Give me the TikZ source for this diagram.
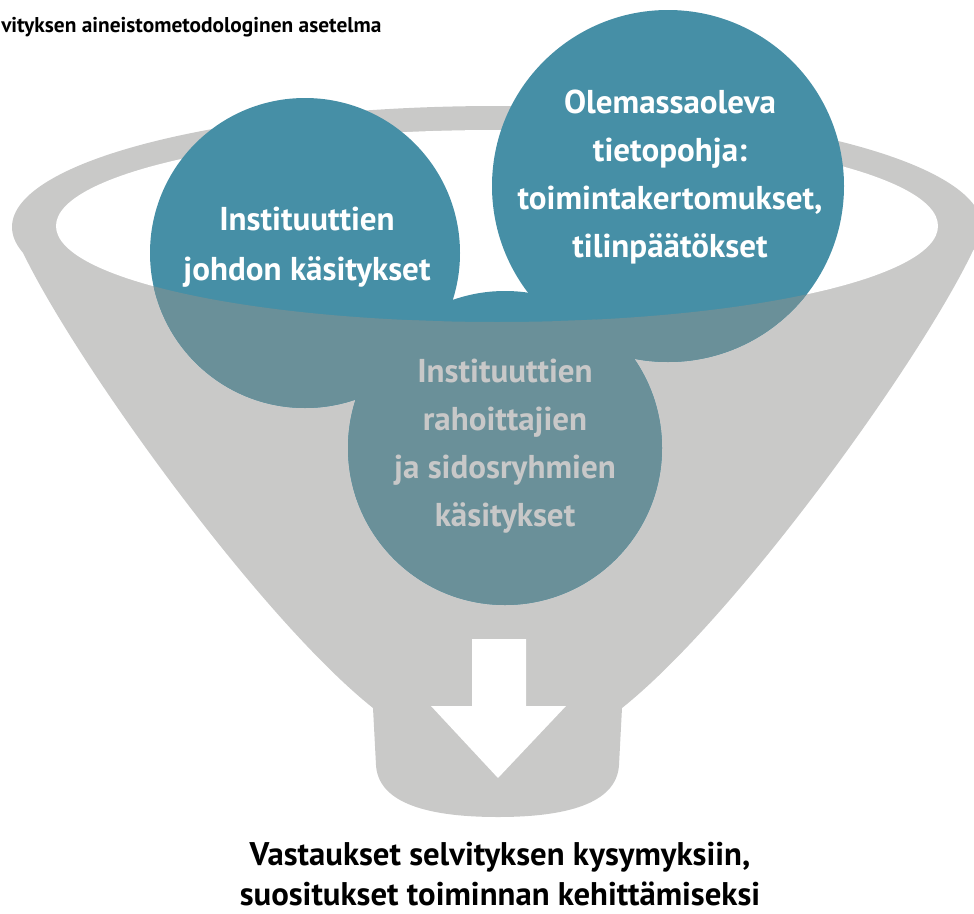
\documentclass[tikz,border=0pt]{standalone}
\usepackage{fontspec}
\setmainfont{PT Sans}
\definecolor{fgray}{RGB}{201,201,200}
\definecolor{teal1}{RGB}{70,143,166}
\definecolor{teal2}{RGB}{106,144,153}
\definecolor{ltext}{RGB}{200,200,200}
\begin{document}
\begin{tikzpicture}[x=0.025cm,y=-0.025cm,
  ctext/.style={anchor=base,inner sep=0pt,font=\bfseries\fontsize{23.5}{34}\selectfont,text=white},
  btext/.style={anchor=base,inner sep=0pt,font=\bfseries\fontsize{23.5}{34}\selectfont,text=ltext},
  otext/.style={anchor=base,inner sep=0pt,font=\bfseries\fontsize{23.3}{34}\selectfont,text=black}]
\useasboundingbox (0,0) rectangle (974,914);
% funnel body
\fill[fgray] (497,227) ellipse [x radius=485, y radius=121];
\fill[fgray] (12,227) .. controls (45,320) and (250,610) .. (373,708)
  -- (376,765) .. controls (378,800) and (420,817) .. (498,817)
  .. controls (575,817) and (617,800) .. (619,765)
  -- (622,708) .. controls (745,610) and (950,320) .. (983,227) -- cycle;
% mouth
\fill[white] (497,226) ellipse [x radius=441, y radius=96];
% circles
\fill[teal1] (305,253) circle [radius=155];
\fill[teal1] (668,186) circle [radius=176];
\fill[teal1] (505,448) circle [radius=157];
\begin{scope}
\clip (56,226) arc [start angle=180, end angle=0, x radius=441, y radius=96] -- (974,914) -- (0,914) -- cycle;
\fill[teal2] (305,253) circle [radius=155];
\fill[teal2] (668,186) circle [radius=176];
\fill[teal2] (505,448) circle [radius=157];
\end{scope}
% arrow
\fill[white] (472,639) -- (526,639) -- (526,706) -- (566,706) -- (498,778) -- (431,706) -- (472,706) -- cycle;
% texts
\node[anchor=base west,inner sep=0pt,font=\bfseries\fontsize{15.2}{18}\selectfont] (title) at (1,32) {vityksen aineistometodologinen asetelma};
\node[ctext] (a1) at (307,230) {Instituuttien};
\node[ctext] (a2) at (307,280) {johdon käsitykset};
\node[ctext] (b1) at (670,113) {Olemassaoleva};
\node[ctext] (b2) at (670,161) {tietopohja:};
\node[ctext] (b3) at (670,209) {toimintakertomukset,};
\node[ctext] (b4) at (670,257) {tilinpäätökset};
\node[btext] (c1) at (505,382) {Instituuttien};
\node[btext] (c2) at (505,430) {rahoittajien};
\node[btext] (c3) at (505,478) {ja sidosryhmien};
\node[btext] (c4) at (505,526) {käsitykset};
\node[otext] (d1) at (500,865) {Vastaukset selvityksen kysymyksiin,};
\node[otext] (d2) at (500,905) {suositukset toiminnan kehittämiseksi};
\end{tikzpicture}
\end{document}
